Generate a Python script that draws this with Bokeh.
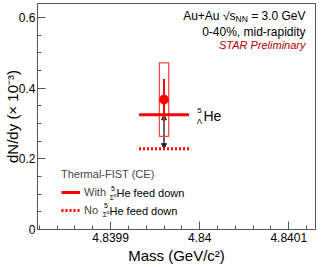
from bokeh.plotting import figure
from bokeh.models import (Range1d, FixedTicker, CustomJSTickFormatter, Label, Arrow,
                          NormalHead, Legend, LegendItem)
from bokeh.embed import file_html
from bokeh.resources import INLINE

# ---------------- data ----------------
mass = [4.83996]          # 5_Lambda He mass (GeV/c^2)
dndy = [0.368]            # measured dN/dy (x 1e-3)
stat_err = [0.058]
sys_err = [0.104]
fist_with_fd = [0.325]    # Thermal-FIST (CE) with Sigma0 5He feed down
fist_no_fd = [0.229]      # Thermal-FIST (CE) without feed down

x_major = [4.8399, 4.84, 4.8401]
x_minor = [round(4.8398 + 0.00002 * k, 6) for k in range(18)]
y_major = [0, 0.2, 0.4, 0.6]
y_minor = [round(0.05 * k, 3) for k in range(13)]

X0, X1 = 4.839818, 4.840130
Y0, Y1 = 0.0, 0.64

# ---------------- layout ----------------
W, H = 327, 267
FL, FR, FT, FB = 45, 323, 3, 229   # frame edges in px
FONT = "Liberation Sans"
RED = "#ff0000"

def X(px):
    return X0 + (px - FL) / (FR - FL) * (X1 - X0)

def Y(py):
    return Y0 + (FB - py) / (FB - FT) * (Y1 - Y0)

p = figure(width=W, height=H, output_backend="svg", toolbar_location=None,
           x_range=Range1d(X0, X1), y_range=Range1d(Y0, Y1),
           min_border_left=FL, min_border_right=W - FR,
           min_border_top=FT, min_border_bottom=H - FB)
p.styles = {"margin": "0px -8px -8px -8px"}
p.xgrid.visible = False
p.ygrid.visible = False
p.outline_line_color = "#555555"
p.outline_line_width = 1
p.background_fill_color = "white"
p.border_fill_color = "white"

for ax in (p.xaxis[0], p.yaxis[0]):
    ax.axis_line_color = "#555555"
    ax.major_tick_line_color = "#555555"
    ax.minor_tick_line_color = "#555555"
    ax.major_tick_in = 8
    ax.major_tick_out = 0
    ax.minor_tick_in = 4
    ax.minor_tick_out = 0
    ax.major_label_text_font = FONT
    ax.major_label_text_font_size = "12px"
    ax.major_label_text_color = "black"
    ax.axis_label_text_font = FONT
    ax.axis_label_text_font_size = "15px"
    ax.axis_label_text_font_style = "normal"
    ax.axis_label_text_color = "black"
    ax.formatter = CustomJSTickFormatter(code="return String(parseFloat(tick.toFixed(6)));")

p.xaxis.ticker = FixedTicker(ticks=x_major, minor_ticks=x_minor)
p.yaxis.ticker = FixedTicker(ticks=y_major, minor_ticks=y_minor)
p.xaxis.axis_label = "Mass (GeV/c²)"
p.yaxis.axis_label = "dN/dy (× 10⁻³)"
p.xaxis.major_label_standoff = 3
p.xaxis.axis_label_standoff = 2
p.yaxis.major_label_standoff = 2
p.yaxis.axis_label_standoff = -5

# ---------------- glyphs ----------------
half_w = 0.000028
box_w = 0.0000105
x_lo = [m - half_w for m in mass]
x_hi = [m + half_w for m in mass]

arrow = Arrow(x_start=mass[0], y_start=fist_with_fd[0], x_end=mass[0], y_end=fist_no_fd[0],
              start=NormalHead(size=5, fill_color="#222222", line_color="#222222", line_width=1),
              end=NormalHead(size=5, fill_color="#222222", line_color="#222222", line_width=1),
              line_color="#333333", line_width=1.5, level="underlay")
p.add_layout(arrow)

p.rect(x=mass, y=dndy, width=box_w, height=[2 * s for s in sys_err],
       fill_alpha=0, line_color="#ff4040", line_width=1.2)
p.segment(x0=mass, y0=[d - s for d, s in zip(dndy, stat_err)],
          x1=mass, y1=[d + s for d, s in zip(dndy, stat_err)],
          line_color=RED, line_width=2)
p.scatter(x=mass, y=dndy, size=9, color=RED)

r_with = p.segment(x0=x_lo, y0=fist_with_fd, x1=x_hi, y1=fist_with_fd,
                   line_color=RED, line_width=3)
r_no = p.segment(x0=x_lo, y0=fist_no_fd, x1=x_hi, y1=fist_no_fd,
                 line_color=RED, line_width=3, line_dash="2 2")

# ---------------- legend ----------------
legend = Legend(items=[LegendItem(label="With", renderers=[r_with]),
                       LegendItem(label="No", renderers=[r_no])],
                location=(24, 12), title="Thermal-FIST (CE)",
                border_line_alpha=0, background_fill_alpha=0,
                padding=0, margin=0, spacing=4,
                glyph_width=19, glyph_height=14, label_height=14,
                label_standoff=4, label_text_font=FONT, label_text_font_size="11px",
                title_text_font=FONT, title_text_font_size="11px",
                title_text_font_style="normal", title_standoff=5)
p.add_layout(legend)

def lab(x, y, text, size="12px", align="left", xo=0, yo=0, color="black", style="normal"):
    p.add_layout(Label(x=x, y=y, text=text, text_font=FONT, text_font_size=size,
                       text_align=align, text_baseline="middle", x_offset=xo, y_offset=yo,
                       text_color=color, text_font_style=style))

# legend super/subscripts
for xpx, ypx in ((124, 192.7), (117, 210)):
    lab(X(xpx), Y(ypx), "He feed down", size="11px")
    lab(X(xpx), Y(ypx), "5", size="7px", align="center", xo=-3.5, yo=5)
    lab(X(xpx), Y(ypx), "Σ⁰", size="7px", align="center", xo=-3.5, yo=-4)

# hypernucleus label
lab(X(211), Y(115), "He", size="14px")
lab(X(211), Y(115), "5", size="8px", align="center", xo=-4, yo=5)
lab(X(211), Y(115), "Λ", size="8px", align="center", xo=-4, yo=-6)

# top-right text
xr = X(313)
lab(xr, Y(15), "= 3.0 GeV", align="right")
lab(xr, Y(15), "NN", size="8.5px", align="right", xo=-57.7, yo=-3)
lab(xr, Y(15), "s", align="right", xo=-70)
lab(xr, Y(15), "√", align="right", xo=-76)
lab(xr, Y(15), "Au+Au", align="right", xo=-86)
lab(xr, Y(31.7), "0-40%, mid-rapidity", align="right")
lab(xr, Y(44.3), "STAR Preliminary", size="11px", align="right", color="#b00000", style="italic")

open("out.html", "w").write(file_html(p, INLINE))
